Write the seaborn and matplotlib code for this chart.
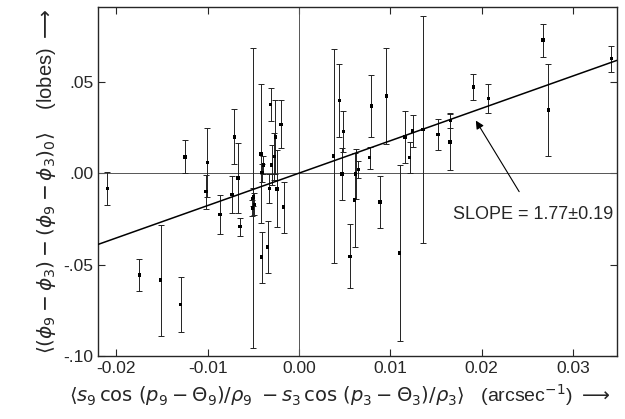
import numpy as np
import pandas as pd
import matplotlib
matplotlib.use('Agg')
import matplotlib.pyplot as plt
import seaborn as sns

# values (x in arcsec^-1, y in lobes)
x_vals = [-0.0210, -0.0175, -0.01515, -0.01296, -0.0125, -0.01005, -0.0102,
          -0.00865, -0.00708, -0.00734, -0.00668, -0.00646,
          -0.00507, -0.0050, -0.0049, -0.0051,
          -0.00416, -0.0039, -0.00405, -0.00409, -0.00343, -0.0031,
          -0.00325, -0.0030, -0.0027, -0.0026, -0.0024, -0.00197, -0.00168,
          0.0038, 0.00442, 0.00486, 0.0047, 0.00559, 0.0061, 0.0062, 0.0065,
          0.00774, 0.00792, 0.00887, 0.00956,
          0.0110, 0.0116, 0.0121, 0.01245, 0.01355, 0.0152,
          0.01657, 0.01654, 0.0191, 0.02073, 0.0267, 0.0273, 0.0342]
y_vals = [-0.0084, -0.0557, -0.0585, -0.0718, 0.0089, 0.0058, -0.0102,
          -0.0226, 0.0198, -0.0117, -0.0026, -0.0293,
          -0.0138, -0.0130, -0.0170, -0.0190,
          0.0105, 0.0044, 0.0002, -0.0459, -0.0403, 0.0375,
          -0.0084, 0.0044, 0.0090, 0.0197, -0.0086, 0.0266, -0.0186,
          0.0093, 0.0397, 0.0226, -0.0004, -0.0454, -0.0146, -0.0004, 0.0020,
          0.0084, 0.0366, -0.0158, 0.0421,
          -0.0437, 0.0197, 0.0084, 0.0230, 0.0239, 0.0211,
          0.0288, 0.0169, 0.0470, 0.0408, 0.0727, 0.0344, 0.0625]
y_errs = [0.0088, 0.0087, 0.0304, 0.0151, 0.0090, 0.0189, 0.0093,
          0.0109, 0.0150, 0.0100, 0.0190, 0.0049,
          0.0820, 0.0050, 0.0060, 0.0045,
          0.0380, 0.0050, 0.0050, 0.0140, 0.0140, 0.0091,
          0.0080, 0.0110, 0.0130, 0.0200, 0.0210, 0.0131, 0.0140,
          0.0583, 0.0199, 0.0111, 0.0143, 0.0174, 0.0258, 0.0135, 0.0046,
          0.0060, 0.0168, 0.0141, 0.0262,
          0.0480, 0.0141, 0.0084, 0.0088, 0.0620, 0.0082,
          0.0040, 0.0152, 0.0070, 0.0081, 0.0090, 0.0251, 0.0070]

slope = 1.77
fit_x = [-0.0220, 0.0348]

df = pd.DataFrame({'x': x_vals, 'y': y_vals, 'err': y_errs})
fit = pd.DataFrame({'x': fit_x, 'y': [slope * v for v in fit_x]})

sns.set_style('ticks')
plt.rcParams['font.family'] = ['Liberation Sans', 'DejaVu Sans']
plt.rcParams['mathtext.fontset'] = 'dejavusans'

fig = plt.figure(figsize=(6.25, 4.19), dpi=100)
ax = fig.add_axes([0.157, 0.150, 0.830, 0.833])

ax.axhline(0, color='#555555', lw=0.7, zorder=1)
ax.axvline(0, color='#555555', lw=0.7, zorder=1)

ax.errorbar(df['x'], df['y'], yerr=df['err'], fmt='none', ecolor='#222222',
            elinewidth=0.7, capsize=2, capthick=0.7, zorder=2)
sns.scatterplot(data=df, x='x', y='y', color='black', s=6, marker='s',
                edgecolor='none', ax=ax, zorder=3)
sns.lineplot(data=fit, x='x', y='y', color='black', lw=1.1, ax=ax, zorder=3)

ax.annotate('SLOPE = 1.77\u00b10.19', xy=(0.0192, 0.0300), xytext=(0.0256, -0.0224),
            ha='center', va='center', fontsize=13,
            arrowprops=dict(arrowstyle='-|>', color='black', lw=0.8,
                            mutation_scale=12, shrinkA=9))

ax.set_xlim(-0.0220, 0.0348)
ax.set_ylim(-0.100, 0.0907)
ax.set_xticks([-0.02, -0.01, 0.0, 0.01, 0.02, 0.03])
ax.set_xticklabels(['-0.02', '-0.01', '0.00', '0.01', '0.02', '0.03'])
ax.set_yticks([-0.10, -0.05, 0.0, 0.05])
ax.set_yticklabels(['-.10', '-.05', '.00', '.05'])
ax.tick_params(direction='in', length=5, width=0.8, labelsize=12.5,
               top=True, right=True)
for sp in ax.spines.values():
    sp.set_linewidth(1.0)

ax.set_xlabel(r'$\left\langle s_9\,\cos\,(p_9-\Theta_9)/\rho_9\; - s_3\,\cos\,(p_3-\Theta_3)/\rho_3\right\rangle$'
              r'   (arcsec$^{-1}$) $\longrightarrow$', fontsize=14, labelpad=3)
ax.xaxis.set_label_coords(0.465, -0.075)
ax.set_ylabel(r'$\left\langle(\phi_9-\phi_3)-(\phi_9-\phi_3)_0\right\rangle$'
              r'    (lobes) $\longrightarrow$', fontsize=14.5, labelpad=4)

fig.savefig('out.png', dpi=100)
